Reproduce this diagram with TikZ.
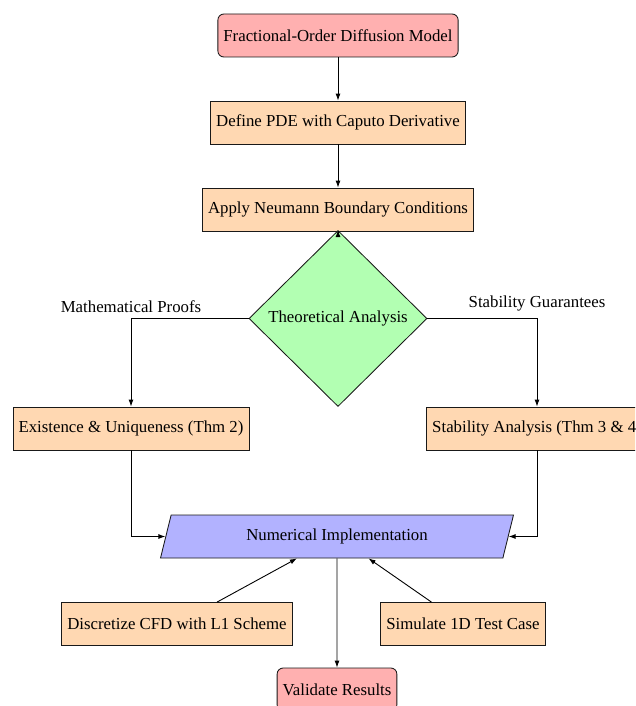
\documentclass[tikz,border=0pt]{standalone}
\usepackage{fontspec}
\setmainfont{Liberation Serif}
\usetikzlibrary{shapes.geometric,arrows.meta}
\definecolor{cred}{RGB}{255,176,176}
\definecolor{corange}{RGB}{255,216,178}
\definecolor{cgreen}{RGB}{178,255,178}
\definecolor{cblue}{RGB}{178,178,255}
\tikzset{
  base/.style={draw=black!90, line width=0.85pt, font=\fontsize{16.8}{20}\selectfont, inner xsep=5.5pt, inner ysep=0pt, minimum height=43pt},
  startstop/.style={base, rectangle, rounded corners=6pt, fill=cred},
  process/.style={base, rectangle, fill=corange},
  decision/.style={base, diamond, fill=cgreen, minimum width=178pt, minimum height=176pt, inner sep=0pt, aspect=1},
  io/.style={base, trapezium, trapezium left angle=68, trapezium right angle=112, trapezium stretches=true, minimum width=353pt, fill=cblue},
  arr/.style={draw=black, line width=0.9pt, -{Latex[length=7pt,width=5pt]}},
  lbl/.style={font=\fontsize{16.8}{20}\selectfont}
}
\begin{document}
\begin{tikzpicture}[x=1pt,y=-1pt]
\useasboundingbox (0,0) rectangle (635,706);
\clip (0,0) rectangle (635,706);
\node[startstop] (model) at (338,35.5) {Fractional-Order Diffusion Model};
\node[process] (pde) at (338,122.5) {Define PDE with Caputo Derivative};
\node[process] (bc) at (338,209.5) {Apply Neumann Boundary Conditions};
\node[decision] (theo) at (338,318.5) {Theoretical Analysis};
\node[process] (exist) at (131,428.5) {Existence \& Uniqueness (Thm 2)};
\node[process] (stab) at (537,428.5) {Stability Analysis (Thm 3 \& 4)};
\node[io] (impl) at (337,536.5) {Numerical Implementation};
\node[process] (disc) at (177,624) {Discretize CFD with L1 Scheme};
\node[process] (sim) at (463,624) {Simulate 1D Test Case};
\node[startstop] (valid) at (337,689.5) {Validate Results};

\draw[arr] (model) -- (pde);
\draw[arr] (pde) -- (bc);
\draw[arr] (bc) -- (theo);
\draw[arr] (theo.west) -| node[lbl, pos=0.5, above, yshift=2pt] (mlabel) {Mathematical Proofs} (exist.north);
\draw[arr] (theo.east) -| node[lbl, pos=0.5, above, yshift=4pt] (slabel) {Stability Guarantees} (stab.north);
\draw[arr] (exist.south) |- (impl);
\draw[arr] (stab.south) |- (impl);
\draw[arr] (disc) -- (impl);
\draw[arr] (sim) -- (impl);
\draw[arr] (impl) -- (valid);
\end{tikzpicture}
\end{document}
